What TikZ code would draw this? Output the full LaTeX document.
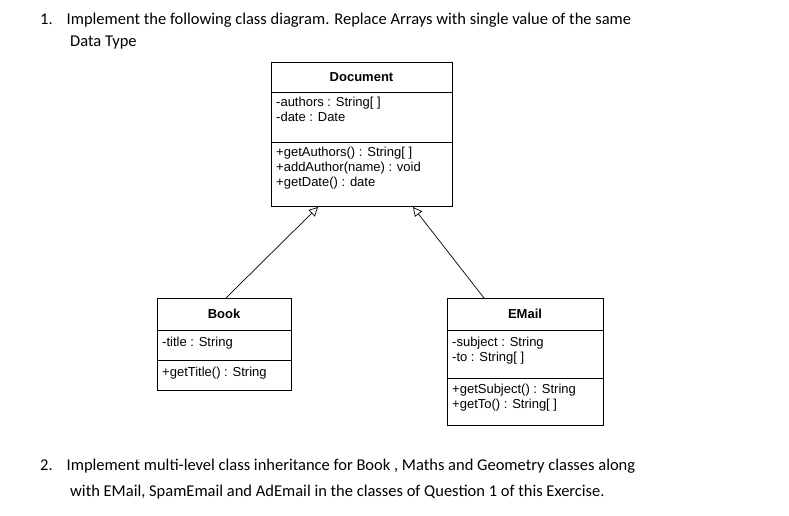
\documentclass[tikz,border=0pt]{standalone}
\usepackage{fontspec}
\setmainfont{Carlito}
\newfontfamily\umlfont{Liberation Sans}
\usetikzlibrary{arrows.meta}
\begin{document}
\begin{tikzpicture}[x=1pt,y=-1pt,
  box/.style={draw,line width=0.8pt},
  utxt/.style={font=\umlfont\fontsize{13}{15}\selectfont,anchor=north west,inner sep=0pt,align=left},
  hdr/.style={font=\umlfont\bfseries\fontsize{13}{15}\selectfont,inner sep=0pt},
  body/.style={font=\fontsize{16.5}{19}\selectfont,anchor=west,inner sep=0pt},
  inh/.style={-{Triangle[open,length=9pt,width=9pt]},line width=0.7pt}]
\fill[white] (0,0) rectangle (789,516);
\node[body] (l1) at (40,20) {1.\hspace{14pt}Implement the following class diagram. Replace Arrays with single value of the same};
\node[body] (l2) at (70,43) {Data Type};
% Document
\draw[box] (271,62) rectangle (452,206);
\draw[box] (271,92) -- (452,92) (271,142) -- (452,142);
\node[hdr] (dh) at (361.5,77) {Document};
\node[utxt] (da) at (276,97) {-authors : String[ ]\\-date : Date};
\node[utxt] (dm) at (276,147) {+getAuthors() : String[ ]\\+addAuthor(name) : void\\+getDate() : date};
\coordinate (dl) at (318,207);
\coordinate (dr) at (413,207);
% Book
\draw[box] (157,298) rectangle (291,390);
\draw[box] (157,330) -- (291,330) (157,360) -- (291,360);
\node[hdr] (bh) at (224,314) {Book};
\node[utxt] (ba) at (162,337) {-title : String};
\node[utxt] (bm) at (162,367) {+getTitle() : String};
\coordinate (bt) at (226,298);
% EMail
\draw[box] (447,298) rectangle (603,425);
\draw[box] (447,330) -- (603,330) (447,378) -- (603,378);
\node[hdr] (eh) at (525,314) {EMail};
\node[utxt] (ea) at (452,337) {-subject : String\\-to : String[ ]};
\node[utxt] (em) at (452,384) {+getSubject() : String\\+getTo() : String[ ]};
\coordinate (et) at (484,298);
\draw[inh] (bt) -- (dl);
\draw[inh] (et) -- (dr);
\node[body] (l3) at (40,466) {2.\hspace{14pt}Implement multi-level class inheritance for Book , Maths and Geometry classes along};
\node[body] (l4) at (70,492) {with EMail, SpamEmail and AdEmail in the classes of Question 1 of this Exercise.};
\end{tikzpicture}
\end{document}
